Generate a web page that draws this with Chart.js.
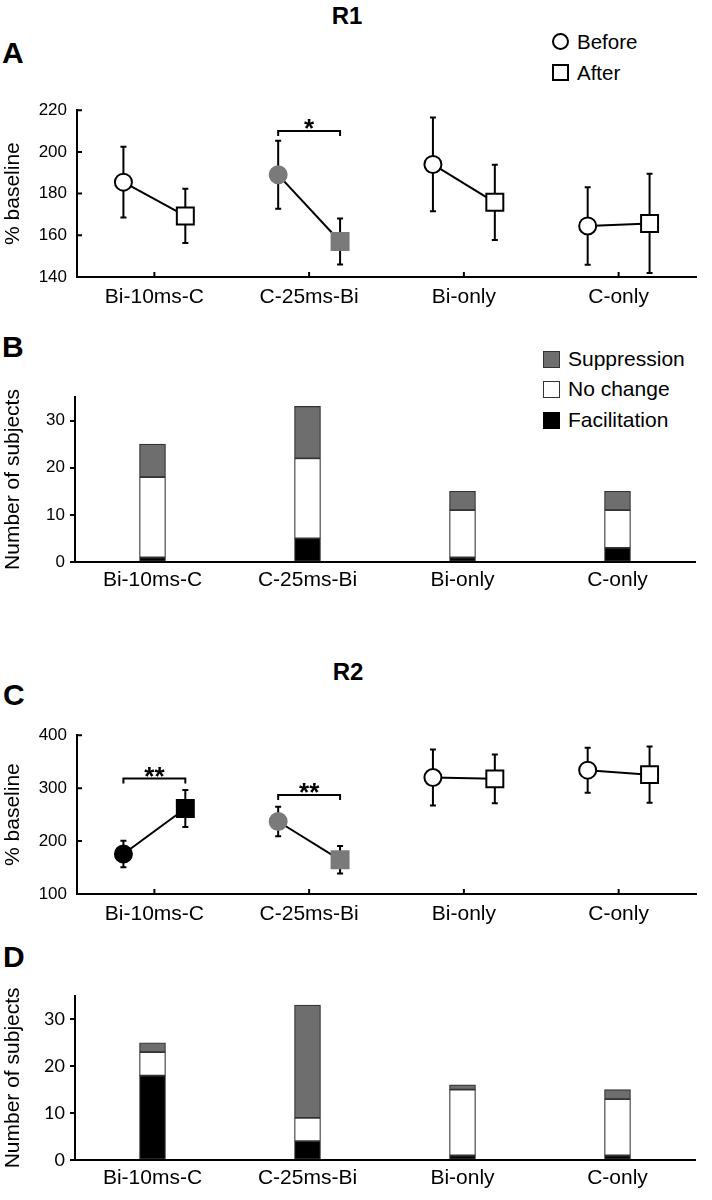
<!DOCTYPE html>
<html>
<head>
<meta charset="utf-8">
<script src="https://cdn.jsdelivr.net/npm/chart.js@4.4.1/dist/chart.umd.min.js"></script>
<style>
    body { margin: 0; background: #fff; }
    #page { position: relative; width: 712px; height: 1200px; font-family: "Liberation Sans", Arial, sans-serif; color: #000; }
    #page canvas { position: absolute; left: 0; }
    .txt { position: absolute; white-space: nowrap; }
    .panel-title { font-weight: bold; font-size: 24px; line-height: 24px; transform: translateX(-50%); }
    .letter { font-weight: bold; font-size: 30px; line-height: 30px; }
    .leg { font-size: 20.5px; line-height: 20px; }
    .mk { position: absolute; box-sizing: border-box; width: 17px; height: 17px; }
</style>
</head>
<body>
<div id="page">
    <div class="txt panel-title" style="left:347px; top:4px">R1</div>
    <div class="txt letter" style="left:2px; top:38px">A</div>
    <div class="mk" style="left:552px; top:33px; border:2px solid #000; border-radius:50%"></div>
    <div class="txt leg" style="left:577px; top:32px">Before</div>
    <div class="mk" style="left:552px; top:64px; border:2px solid #000"></div>
    <div class="txt leg" style="left:577px; top:63px">After</div>
    <canvas id="chartA" width="712" height="230" style="top:90px"></canvas>

    <div class="txt letter" style="left:2px; top:332px">B</div>
    <div class="mk" style="left:543px; top:351px; border:1px solid #333; background:#6e6e6e"></div>
    <div class="txt leg" style="left:568px; top:349px; font-size:21px">Suppression</div>
    <div class="mk" style="left:543px; top:381px; border:1.5px solid #333; background:#fff"></div>
    <div class="txt leg" style="left:568px; top:379px; font-size:21px">No change</div>
    <div class="mk" style="left:543px; top:412px; background:#000"></div>
    <div class="txt leg" style="left:568px; top:410px; font-size:21px">Facilitation</div>
    <canvas id="chartB" width="712" height="220" style="top:380px"></canvas>

    <div class="txt panel-title" style="left:348px; top:660px">R2</div>
    <div class="txt letter" style="left:3px; top:680px">C</div>
    <canvas id="chartC" width="712" height="225" style="top:715px"></canvas>

    <div class="txt letter" style="left:3px; top:942px">D</div>
    <canvas id="chartD" width="712" height="220" style="top:980px"></canvas>
</div>

<script>

const categories = ['Bi-10ms-C', 'C-25ms-Bi', 'Bi-only', 'C-only'];

// R1, % baseline (mean and error bar half-length)
const r1_before = [185.5, 189, 194, 164.5];
const r1_before_err = [17, 16.3, 22.5, 18.6];
const r1_after = [169.3, 157, 175.8, 165.7];
const r1_after_err = [13, 11, 18, 23.8];
const r1_ticks = [140, 160, 180, 200, 220];
const r1_fill = ['white', 'grey', 'white', 'white'];

// R2, % baseline
const r2_before = [175.5, 237, 320, 334];
const r2_before_err = [25, 28, 53, 42.5];
const r2_after = [261.5, 164.5, 317.5, 325.5];
const r2_after_err = [35, 26, 46, 53];
const r2_ticks = [100, 200, 300, 400];
const r2_fill = ['black', 'grey', 'white', 'white'];

// significance brackets
const r1_sig_cat = [1];
const r1_sig_level = [210];
const r1_sig_label = ['*'];
const r2_sig_cat = [0, 1];
const r2_sig_level = [318, 287];
const r2_sig_label = ['**', '**'];

// number of subjects
const count_ticks = [0, 10, 20, 30];
const r1_facilitation = [1, 5, 1, 3];
const r1_no_change = [17, 17, 10, 8];
const r1_suppression = [7, 11, 4, 4];
const r2_facilitation = [18, 4, 1, 1];
const r2_no_change = [5, 5, 14, 12];
const r2_suppression = [2, 24, 1, 2];

const FONT = '"Liberation Sans", Arial, sans-serif';
const fill_colors = { white: '#ffffff', grey: '#7a7a7a', black: '#000000' };

Chart.defaults.font.family = FONT;
Chart.defaults.color = '#000';
Chart.defaults.animation = false;


function errorBarPlugin(before_err, after_err) {
    return {
        id: 'errorBars',
        beforeDatasetsDraw(chart) {
            const { ctx, scales: { x, y } } = chart;
            ctx.save();
            ctx.strokeStyle = '#000';
            ctx.lineWidth = 2;
            chart.data.datasets.forEach((ds, i) => {
                ds.data.forEach((p, j) => {
                    const e = (j === 0 ? before_err : after_err)[i];
                    const px = x.getPixelForValue(p.x);
                    const top = y.getPixelForValue(p.y + e);
                    const bot = y.getPixelForValue(p.y - e);
                    ctx.beginPath();
                    ctx.moveTo(px, top); ctx.lineTo(px, bot);
                    ctx.moveTo(px - 3, top); ctx.lineTo(px + 3, top);
                    ctx.moveTo(px - 3, bot); ctx.lineTo(px + 3, bot);
                    ctx.stroke();
                });
            });
            ctx.restore();
        }
    };
}

function sigPlugin(cats, levels, labels) {
    return {
        id: 'sigBrackets',
        afterDatasetsDraw(chart) {
            const { ctx, scales: { x, y } } = chart;
            ctx.save();
            ctx.strokeStyle = '#000';
            ctx.fillStyle = '#000';
            ctx.lineWidth = 2;
            ctx.font = 'bold 26px ' + FONT;
            ctx.textAlign = 'center';
            ctx.textBaseline = 'alphabetic';
            cats.forEach((c, k) => {
                const x1 = x.getPixelForValue(c + 0.3);
                const x2 = x.getPixelForValue(c + 0.7);
                const py = y.getPixelForValue(levels[k]);
                ctx.beginPath();
                ctx.moveTo(x1, py + 5); ctx.lineTo(x1, py);
                ctx.lineTo(x2, py); ctx.lineTo(x2, py + 5);
                ctx.stroke();
                ctx.fillText(labels[k], (x1 + x2) / 2, py + 6);
            });
            ctx.restore();
        }
    };
}

// ticks pointing into the plot (panels A and C)
const innerTicks = {
    id: 'innerTicks',
    afterDraw(chart) {
        const { ctx, chartArea, scales: { x, y } } = chart;
        ctx.save();
        ctx.strokeStyle = '#000';
        ctx.lineWidth = 2;
        ctx.beginPath();
        y.ticks.forEach(t => {
            const py = y.getPixelForValue(t.value);
            ctx.moveTo(chartArea.left, py); ctx.lineTo(chartArea.left + 5, py);
        });
        x.ticks.forEach(t => {
            const px = x.getPixelForValue(t.value);
            ctx.moveTo(px, chartArea.bottom); ctx.lineTo(px, chartArea.bottom - 5);
        });
        ctx.stroke();
        ctx.restore();
    }
};


function renderBaselineChart(id, before, after, before_err, after_err, fills, y_ticks, sig, pad_top, x_height) {

    const datasets = categories.map((cat, i) => {
        const fill = fill_colors[fills[i]];
        const edge = fills[i] === 'white' ? '#000' : fill;
        return {
            label: cat,
            data: [{ x: i + 0.3, y: before[i] }, { x: i + 0.7, y: after[i] }],
            borderColor: '#000',
            borderWidth: 2,
            pointStyle: ['circle', 'rect'],
            pointRadius: [8.5, 12],
            pointBackgroundColor: fill,
            pointBorderColor: edge,
            pointBorderWidth: 2
        };
    });

    const config = {
        type: 'line',
        data: { datasets: datasets },
        options: {
            responsive: false,
            layout: { padding: { top: pad_top, right: 16, left: 0, bottom: 0 } },
            plugins: { legend: { display: false }, tooltip: { enabled: false } },
            scales: {
                x: {
                    type: 'linear',
                    min: 0,
                    max: 4,
                    afterBuildTicks: scale => { scale.ticks = categories.map((c, i) => ({ value: i + 0.5 })); },
                    afterFit: scale => { scale.height = x_height; },
                    ticks: {
                        callback: v => categories[Math.floor(v)],
                        font: { size: 21 },
                        padding: 8,
                        maxRotation: 0,
                        autoSkip: false
                    },
                    grid: { display: false, drawTicks: false },
                    border: { color: '#000', width: 2 }
                },
                y: {
                    min: y_ticks[0],
                    max: y_ticks[y_ticks.length - 1],
                    afterBuildTicks: scale => { scale.ticks = y_ticks.map(v => ({ value: v })); },
                    afterFit: scale => { scale.width = 77; },
                    ticks: { font: { size: 17 }, padding: 10 },
                    grid: { display: false, drawTicks: false },
                    border: { color: '#000', width: 2 },
                    title: { display: true, text: '% baseline', font: { size: 21 }, padding: { top: 1, bottom: 0 } }
                }
            }
        },
        plugins: [errorBarPlugin(before_err, after_err), sigPlugin(sig[0], sig[1], sig[2]), innerTicks]
    };

    return new Chart(document.getElementById(id), config);
}


function renderCountChart(id, facilitation, no_change, suppression, pad_top, x_height, tick_font) {

    const bar_style = {
        barThickness: 26,
        borderColor: '#333',
        borderWidth: 1.2,
        borderSkipped: false,
        stack: 'subjects'
    };

    const data = {
        labels: categories,
        datasets: [
            Object.assign({ label: 'Facilitation', data: facilitation, backgroundColor: '#000000' }, bar_style),
            Object.assign({ label: 'No change', data: no_change, backgroundColor: '#ffffff' }, bar_style),
            Object.assign({ label: 'Suppression', data: suppression, backgroundColor: '#6e6e6e' }, bar_style)
        ]
    };

    const config = {
        type: 'bar',
        data: data,
        options: {
            responsive: false,
            layout: { padding: { top: pad_top, right: 17, left: 0, bottom: 0 } },
            plugins: { legend: { display: false }, tooltip: { enabled: false } },
            scales: {
                x: {
                    stacked: true,
                    afterFit: scale => { scale.height = x_height; },
                    ticks: { font: { size: 21 }, padding: 6, maxRotation: 0, autoSkip: false },
                    grid: { display: false, drawTicks: false },
                    border: { color: '#000', width: 2 }
                },
                y: {
                    stacked: true,
                    min: 0,
                    max: 35,
                    afterBuildTicks: scale => { scale.ticks = count_ticks.map(v => ({ value: v })); },
                    afterFit: scale => { scale.width = 75; },
                    ticks: { font: tick_font, padding: 5 },
                    grid: { drawOnChartArea: false, drawTicks: true, tickLength: 5, color: '#000', lineWidth: 2 },
                    border: { color: '#000', width: 2 },
                    title: { display: true, text: 'Number of subjects', font: { size: 21 }, padding: { top: 1, bottom: 0 } }
                }
            }
        }
    };

    return new Chart(document.getElementById(id), config);
}


renderBaselineChart('chartA', r1_before, r1_after, r1_before_err, r1_after_err, r1_fill, r1_ticks,
    [r1_sig_cat, r1_sig_level, r1_sig_label], 17, 43);

renderCountChart('chartB', r1_facilitation, r1_no_change, r1_suppression, 17, 38, { size: 17 });

renderBaselineChart('chartC', r2_before, r2_after, r2_before_err, r2_after_err, r2_fill, r2_ticks,
    [r2_sig_cat, r2_sig_level, r2_sig_label], 13, 46);

renderCountChart('chartD', r2_facilitation, r2_no_change, r2_suppression, 15, 40, { size: 18, family: 'Lato, ' + FONT });

</script>
</body>
</html>
